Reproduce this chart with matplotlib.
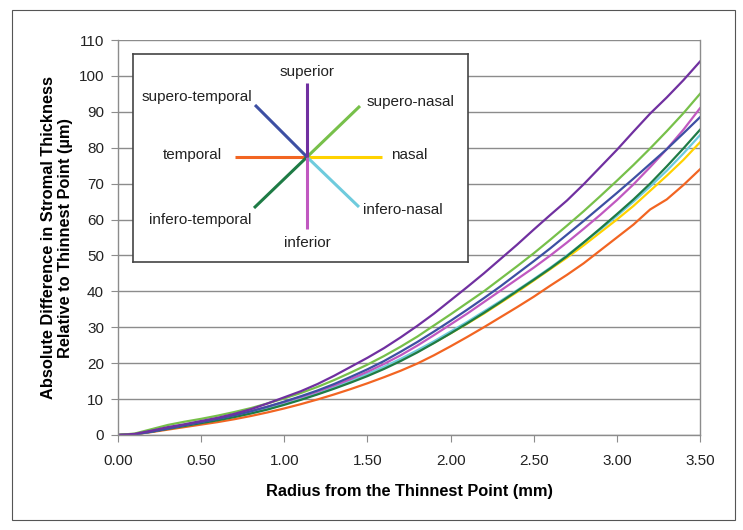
import matplotlib.pyplot as plt
import numpy as np
from matplotlib.patches import Rectangle

plt.rcParams['font.family'] = ['Liberation Sans', 'DejaVu Sans']

#======= Donnees =======

radius = [round(0.1 * i, 1) for i in range(36)]   # mm

superior = [0, 0.3, 1.2, 2.2, 3.0, 3.9, 4.8, 5.9, 7.2, 8.8, 10.5, 12.2, 14.2, 16.5, 19.0, 21.5,
            24.2, 27.2, 30.4, 33.8, 37.5, 41.2, 45.0, 49.0, 53.0, 57.2, 61.3, 65.3, 69.8, 74.6,
            79.4, 84.5, 89.5, 94.0, 98.8, 104.0]
supero_nasal = [0, 0.4, 1.6, 2.8, 3.7, 4.5, 5.4, 6.4, 7.5, 8.8, 10.2, 11.7, 13.4, 15.3, 17.4, 19.6,
                22.0, 24.6, 27.4, 30.5, 33.6, 36.8, 40.0, 43.5, 47.0, 50.6, 54.4, 58.3, 62.3, 66.5,
                70.8, 75.2, 79.8, 84.6, 89.6, 95.0]
supero_temporal = [0, 0.2, 0.9, 1.8, 2.7, 3.6, 4.5, 5.5, 6.6, 7.9, 9.3, 10.8, 12.4, 14.2, 16.2, 18.3,
                   20.6, 23.2, 25.9, 28.8, 31.8, 34.9, 38.1, 41.4, 44.9, 48.4, 52.0, 55.8, 59.6, 63.5,
                   67.4, 71.4, 75.5, 79.6, 84.0, 88.5]
inferior = [0, 0.2, 1.0, 1.9, 2.8, 3.7, 4.6, 5.6, 6.7, 7.9, 9.2, 10.6, 12.1, 13.8, 15.6, 17.6,
            19.8, 22.2, 24.9, 27.8, 30.8, 33.8, 37.0, 40.2, 43.4, 46.6, 50.0, 53.6, 57.4, 61.3,
            65.4, 69.8, 74.6, 79.6, 85.0, 91.0]
infero_temporal = [0, 0.2, 0.9, 1.7, 2.5, 3.3, 4.1, 5.0, 6.0, 7.1, 8.4, 9.8, 11.3, 12.9, 14.6, 16.4,
                   18.4, 20.6, 23.0, 25.6, 28.3, 31.1, 34.0, 37.0, 40.1, 43.2, 46.4, 49.8, 53.6, 57.5,
                   61.5, 65.6, 70.0, 74.8, 79.8, 85.0]
infero_nasal = [0, 0.2, 1.0, 1.9, 2.7, 3.5, 4.4, 5.3, 6.4, 7.6, 8.9, 10.3, 11.8, 13.4, 15.2, 17.0,
                19.0, 21.2, 23.6, 26.1, 28.8, 31.5, 34.4, 37.3, 40.3, 43.4, 46.6, 50.0, 53.6, 57.2,
                61.0, 65.0, 69.2, 73.6, 78.4, 83.5]
nasal = [0, 0.2, 1.0, 1.8, 2.6, 3.4, 4.2, 5.1, 6.1, 7.3, 8.6, 10.0, 11.5, 13.1, 14.8, 16.7,
         18.7, 20.9, 23.2, 25.7, 28.3, 31.0, 33.8, 36.8, 39.8, 43.0, 46.2, 49.4, 52.8, 56.4,
         60.0, 63.8, 68.0, 72.2, 76.6, 81.5]
temporal = [0, 0.2, 0.8, 1.5, 2.2, 2.9, 3.6, 4.4, 5.3, 6.3, 7.4, 8.6, 9.9, 11.3, 12.8, 14.4,
            16.1, 17.9, 19.9, 22.2, 24.7, 27.3, 30.0, 32.8, 35.6, 38.5, 41.6, 44.6, 47.8, 51.4,
            55.0, 58.6, 62.8, 65.6, 69.6, 74.0]

x_ticks = [0.0, 0.5, 1.0, 1.5, 2.0, 2.5, 3.0, 3.5]
y_ticks = list(range(0, 111, 10))

# ordre de trace : le premier est dessous
series = [
    (temporal, '#F26522'),
    (nasal, '#FFD200'),
    (infero_nasal, '#6ECBDD'),
    (infero_temporal, '#1E7B45'),
    (inferior, '#C058C0'),
    (supero_temporal, '#3D4FA3'),
    (supero_nasal, '#77C04A'),
    (superior, '#7030A0'),
]

#======= Figure =======

fig = plt.figure(figsize=(7.43, 5.30), dpi=100)
fig.patches.append(Rectangle((12 / 743, 1 - 520 / 530), (735 - 12) / 743, (520 - 10) / 530,
                             transform=fig.transFigure, fill=False, edgecolor='#555555', lw=0.8))

ax = fig.add_axes([118 / 743, 1 - 435 / 530, (700 - 118) / 743, (435 - 40) / 530])
for vals, col in series:
    ax.plot(radius, vals, color=col, lw=1.6)

ax.set_xlim(0, 3.5)
ax.set_ylim(0, 110)
ax.set_xticks(x_ticks)
ax.set_xticklabels(['%.2f' % t for t in x_ticks])
ax.set_yticks(y_ticks)
ax.yaxis.grid(True, color='#8c8c8c', lw=1)
ax.set_axisbelow(True)
for s in ['left', 'bottom', 'right']:
    ax.spines[s].set_color('#8c8c8c')
    ax.spines[s].set_linewidth(1)
ax.spines['top'].set_visible(False)
ax.tick_params(axis='both', colors='#8c8c8c', labelcolor='#222222', labelsize=11, length=5)
ax.tick_params(axis='x', pad=9)
ax.tick_params(axis='y', pad=5)

ax.set_xlabel('Radius from the Thinnest Point (mm)', fontsize=11.8, fontweight='bold', labelpad=11)
ax.set_ylabel('Absolute Difference in Stromal Thickness\nRelative to Thinnest Point (\u00b5m)',
              fontsize=11.8, fontweight='bold', labelpad=4)

#======= Legende (rose des directions) =======

lg = fig.add_axes([133 / 743, 1 - 262 / 530, (468 - 133) / 743, (262 - 54) / 530])
lg.set_xlim(133, 468)
lg.set_ylim(262, 54)
lg.set_xticks([])
lg.set_yticks([])
for s in lg.spines.values():
    s.set_color('#444444')
    s.set_linewidth(1.2)

cx, cy = 307, 157
arms = [
    ('temporal', '#F26522', 235, 157, 222, 155, 'right'),
    ('nasal', '#FFD200', 382, 157, 391, 155, 'left'),
    ('infero-nasal', '#6ECBDD', 359, 207, 363, 210, 'left'),
    ('infero-temporal', '#1E7B45', 254, 208, 251, 220, 'right'),
    ('inferior', '#C058C0', 307, 229, 307, 243, 'center'),
    ('supero-temporal', '#3D4FA3', 255, 105, 252, 97, 'right'),
    ('supero-nasal', '#77C04A', 360, 106, 367, 102, 'left'),
    ('superior', '#7030A0', 307, 83, 307, 72, 'center'),
]
for name, col, ex, ey, tx, ty, ha in arms:
    lg.plot([cx, ex], [cy, ey], color=col, lw=2.2, solid_capstyle='butt')
    lg.text(tx, ty, name, ha=ha, va='center', fontsize=11, color='#222222')

fig.savefig('out.png', dpi=100)
